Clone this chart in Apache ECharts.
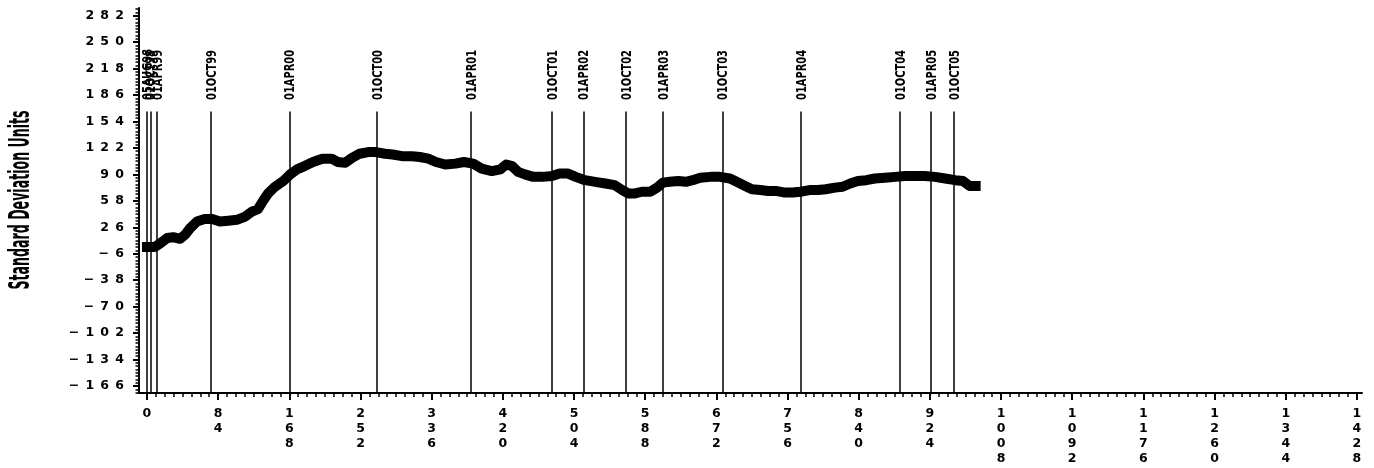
<!DOCTYPE html>
<html>
<head>
<meta charset="utf-8">
<script src="https://cdn.jsdelivr.net/npm/echarts@6/dist/echarts.min.js"></script>
<style>
  html, body { margin: 0; padding: 0; background: #fff; }
  #chart { width: 1374px; height: 468px; }
</style>
</head>
<body>
<div id="chart"></div>
<script>
// Observation index along the horizontal axis
const obsIndex = [0,9,15,24,31,39,45,51,59,68,77,86,96,106,116,124,131,137,143,151,
  161,169,177,186,196,207,218,225,234,242,251,261,270,281,290,301,313,322,332,341,
  352,364,374,385,395,407,417,424,431,438,446,456,467,478,487,497,506,517,529,541,
  552,561,568,576,584,594,602,609,617,627,636,644,653,665,676,688,696,706,714,724,
  733,742,753,762,771,782,792,801,812,821,830,839,849,859,871,883,895,906,918,930,
  942,954,963,971,978];

// Cumulative value in standard deviation units
const sdUnits = [2,2,6,13,14,12,17,25,33,36,36,33,34,35,39,45,48,58,67,75,
  82,90,96,100,105,109,109,105,104,110,115,117,117,115,114,112,112,111,109,105,
  102,103,105,103,97,94,96,102,100,93,90,87,87,88,91,91,87,83,81,79,
  77,71,67,67,69,69,74,80,81,82,81,83,86,87,87,85,81,76,72,71,
  70,70,68,68,69,71,71,72,74,75,79,82,83,85,86,87,88,88,88,87,
  85,83,82,76,76];

// Dated reference lines
const eventIndex  = [0,4,12,75,168,271,382,478,515,565,609,679,772,889,925,952];
const eventLabels = ['05AUG98','01OCT98','01APR99','01OCT99','01APR00','01OCT00','01APR01',
  '01OCT01','01APR02','01OCT02','01APR03','01OCT03','01APR04','01OCT04','01APR05','01OCT05'];

// Tick values
const xTicks = [0,84,168,252,336,420,504,588,672,756,840,924,1008,1092,1176,1260,1344,1428];
const yTicks = [-166,-134,-102,-70,-38,-6,26,58,90,122,154,186,218,250,282];

const xRange = [-9.4, 1434];
const yRange = [-174.5, 291.3];
const eventTop = 166;       // reference lines stop here
const eventLabelBase = 180; // labels start here and run upward

// minor tick positions: n subdivisions of each major step, within the axis range
function minorTicks(ticks, n, lo, hi) {
  const step = (ticks[1] - ticks[0]) / n;
  const out = [];
  for (let v = ticks[0] - step * Math.floor((ticks[0] - lo) / step); v <= hi; v += step) {
    const r = Math.round(v * 1000) / 1000;
    if (!ticks.some(t => Math.abs(t - r) < 1e-6)) out.push(r);
  }
  return out;
}
const xMinor = minorTicks(xTicks, 8, 0, xRange[1]);
const yMinor = minorTicks(yTicks, 8, yRange[0], yRange[1]);

const FONT_NUM = 'DejaVu Sans';
const FONT_NARROW = '"DejaVu Sans Condensed", "DejaVu Sans", sans-serif';
const black = '#000';

const chart = echarts.init(document.getElementById('chart'), null, { renderer: 'canvas' });

const axisCommon = {
  type: 'value',
  splitLine: { show: false },
  axisLine: { show: true, onZero: false, lineStyle: { color: black, width: 2 } }
};

chart.setOption({
  animation: false,
  backgroundColor: '#fff',
  grid: { left: 139, right: 12, top: 8, bottom: 75, containLabel: false },
  xAxis: [
    Object.assign({}, axisCommon, {
      min: xRange[0], max: xRange[1], position: 'bottom',
      axisTick: { show: true, customValues: xTicks, length: 7, lineStyle: { color: black, width: 2 } },
      axisLabel: {
        customValues: xTicks, margin: 13, color: black,
        fontFamily: FONT_NUM, fontWeight: 'bold', fontSize: 12.5, lineHeight: 15,
        align: 'center', verticalAlign: 'top',
        formatter: v => String(v).split('').join('\n')
      }
    }),
    Object.assign({}, axisCommon, {
      min: xRange[0], max: xRange[1], position: 'bottom',
      axisLine: { show: false, onZero: false },
      axisTick: { show: true, customValues: xMinor, length: 4, lineStyle: { color: black, width: 1.5 } },
      axisLabel: { show: false }
    })
  ],
  yAxis: [
    Object.assign({}, axisCommon, {
      min: yRange[0], max: yRange[1], position: 'left',
      axisTick: { show: true, customValues: yTicks, length: 6, lineStyle: { color: black, width: 2 } },
      axisLabel: {
        customValues: yTicks, margin: 15, color: black,
        fontFamily: FONT_NUM, fontWeight: 'bold', fontSize: 12.5,
        formatter: v => String(v).replace('-', '\u2212').split('').join('\u2002')
      }
    }),
    Object.assign({}, axisCommon, {
      min: yRange[0], max: yRange[1], position: 'left',
      axisLine: { show: false, onZero: false },
      axisTick: { show: true, customValues: yMinor, length: 3.5, lineStyle: { color: black, width: 1.5 } },
      axisLabel: { show: false }
    })
  ],
  graphic: [{
    type: 'text',
    x: 21.5, y: 200,
    rotation: Math.PI / 2,
    scaleY: 2.05,
    style: {
      text: 'Standard Deviation Units',
      font: 'bold 14px ' + FONT_NARROW,
      fill: black,
      textAlign: 'center',
      textVerticalAlign: 'middle'
    }
  }],
  series: [
    {
      type: 'lines',
      coordinateSystem: 'cartesian2d',
      xAxisIndex: 0, yAxisIndex: 0,
      silent: true,
      lineStyle: { color: black, width: 1.5, opacity: 1 },
      data: eventIndex.map(x => ({ coords: [[x, yRange[0]], [x, eventTop]] })),
      z: 2
    },
    {
      // date labels above each reference line, reading upward
      type: 'custom',
      xAxisIndex: 0, yAxisIndex: 0,
      silent: true,
      clip: false,
      data: eventIndex.map(x => [x, eventLabelBase]),
      renderItem: (params, api) => {
        const p = api.coord([api.value(0), api.value(1)]);
        return {
          type: 'text',
          x: p[0] + 1.5, y: p[1],
          rotation: Math.PI / 2,
          scaleY: 1.25,
          style: {
            text: eventLabels[params.dataIndex],
            font: 'bold 11px ' + FONT_NARROW,
            fill: black,
            align: 'left',
            verticalAlign: 'middle'
          }
        };
      },
      z: 3
    },
    {
      type: 'line',
      xAxisIndex: 0, yAxisIndex: 0,
      data: obsIndex.map((x, i) => [x, sdUnits[i]]),
      showSymbol: false,
      symbol: 'none',
      lineStyle: { color: black, width: 10, cap: 'square', join: 'round' },
      z: 4
    }
  ]
});
</script>
</body>
</html>
